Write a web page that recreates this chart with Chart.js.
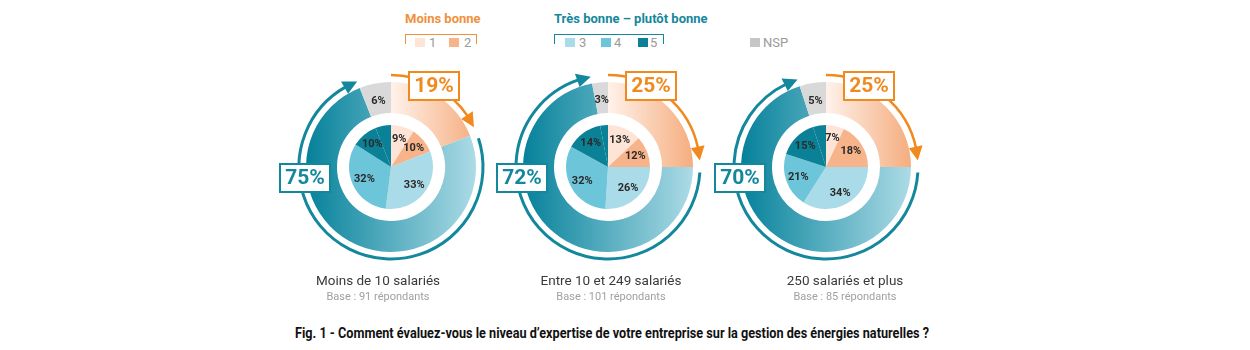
<!DOCTYPE html>
<html lang="fr">
<head>
<meta charset="utf-8">
<script src="https://cdn.jsdelivr.net/npm/chart.js"></script>
<style>
  body { margin: 0; background: #fff; font-family: Roboto, "DejaVu Sans", sans-serif; }
  #page { position: relative; width: 1250px; height: 350px; overflow: hidden; }
  .abs { position: absolute; white-space: nowrap; }
  .hdr { font-weight: bold; font-size: 13px; line-height: 16px; }
  .brk { position: absolute; height: 9px; border: 1.5px solid; border-bottom: none; }
  .sw { position: absolute; width: 10px; height: 9px; }
  .lt { position: absolute; font-size: 13px; line-height: 14px; color: #9a9a9a; }
  .cat { font-size: 13.5px; color: #3a3a3a; transform: translateX(-50%); }
  .base { font-size: 11px; color: #a0a0a0; transform: translateX(-50%); }
  canvas { position: absolute; }
</style>
</head>
<body>
<div id="page">
  <!-- legende -->
  <div class="abs hdr" style="left:405px;top:11px;color:#f0913b">Moins bonne</div>
  <div class="brk" style="left:405px;top:34px;width:70px;border-color:#f0913b"></div>
  <div class="sw" style="left:415px;top:38px;background:#fde4d6"></div>
  <div class="lt" style="left:429px;top:36px">1</div>
  <div class="sw" style="left:449px;top:38px;background:#f7b38a"></div>
  <div class="lt" style="left:464px;top:36px">2</div>

  <div class="abs hdr" style="left:554px;top:11px;color:#17879c">Très bonne – plutôt bonne</div>
  <div class="brk" style="left:554px;top:34px;width:108px;border-color:#17879c"></div>
  <div class="sw" style="left:565px;top:38px;background:#a9dbe8"></div>
  <div class="lt" style="left:579px;top:36px">3</div>
  <div class="sw" style="left:601px;top:38px;background:#6dc5da"></div>
  <div class="lt" style="left:614px;top:36px">4</div>
  <div class="sw" style="left:638px;top:38px;background:#0a8197"></div>
  <div class="lt" style="left:650px;top:36px">5</div>

  <div class="sw" style="left:750px;top:38px;background:#c6c6c6"></div>
  <div class="lt" style="left:763px;top:36px">NSP</div>

  <div class="abs" id="title" style="left:295px;top:325px;font-weight:bold;font-size:14px;color:#111;transform-origin:0 0">Fig. 1 - Comment évaluez-vous le niveau d’expertise de votre entreprise sur la gestion des énergies naturelles ?</div>
</div>
<script>
var groups = ['Moins de 10 salariés', 'Entre 10 et 249 salariés', '250 salariés et plus'];
var bases = [91, 101, 85];

// anneau exterieur
var moinsBonne = [19, 25, 25];
var tresBonne = [75, 72, 70];
var nsp = [6, 3, 5];

// camembert interieur (notes 1 a 5)
var note1 = [9, 13, 7];
var note2 = [10, 12, 18];
var note3 = [33, 26, 34];
var note4 = [32, 32, 21];
var note5 = [10, 14, 15];

var centers = [391, 608, 826];
var labelX = [378, 611, 845];
var cy = 167;
var orange = '#f08a1e';
var teal = '#13879c';
// le NSP du camembert est peint comme la note 5
var pieColors = ['#fde4d6', '#f7b38a', '#a9dbe8', '#6dc5da', '#0a8197', '#0a8197'];

// titre condense a la largeur de l'original
var title = document.getElementById('title');
title.style.transform = 'scaleX(' + (634 / title.offsetWidth) + ')';

function ringColor(c) {
    var chart = c.chart, area = chart.chartArea;
    if (!area) return '#ccc';
    var x = (area.left + area.right) / 2, R = 85, g;
    if (c.dataIndex === 0) {
        g = chart.ctx.createLinearGradient(x, 0, x + R, 0);
        g.addColorStop(0, '#fff2ea');
        g.addColorStop(1, '#f5ad7f');
        return g;
    }
    if (c.dataIndex === 1) {
        g = chart.ctx.createLinearGradient(x - R, 0, x + R, 0);
        g.addColorStop(0, '#05819a');
        g.addColorStop(1, '#acdbe6');
        return g;
    }
    return '#d9d9d9';
}

function arrowArc(ctx, x, y, r, a0, a1, color, lw) {
    var len = 14, w = 14;
    var b = a1 - len / r;
    ctx.strokeStyle = color;
    ctx.lineWidth = lw;
    ctx.beginPath();
    ctx.arc(x, y, r, a0, b + 0.02);
    ctx.stroke();
    ctx.fillStyle = color;
    ctx.beginPath();
    ctx.moveTo(x + Math.cos(a1) * r, y + Math.sin(a1) * r);
    ctx.lineTo(x + Math.cos(b) * (r + w / 2), y + Math.sin(b) * (r + w / 2));
    ctx.lineTo(x + Math.cos(b) * (r - w / 2), y + Math.sin(b) * (r - w / 2));
    ctx.closePath();
    ctx.fill();
}

function valueBox(ctx, x, y, txt, color) {
    ctx.fillStyle = '#fff';
    ctx.fillRect(x - 25, y - 14, 50, 28);
    ctx.strokeStyle = color;
    ctx.lineWidth = 2;
    ctx.strokeRect(x - 25, y - 14, 50, 28);
    ctx.fillStyle = color;
    ctx.font = 'bold 21px Roboto';
    ctx.textAlign = 'center';
    ctx.textBaseline = 'middle';
    ctx.fillText(txt, x, y + 1);
}

var decor = {
    id: 'decor',
    afterDatasetsDraw: function (chart) {
        var ctx = chart.ctx, i = chart.options.plugins.decor.index;
        var ring = chart.getDatasetMeta(0).data;
        var pie = chart.getDatasetMeta(2).data;
        var x = ring[0].x, y = ring[0].y, R = ring[0].outerRadius;
        var ra = R + 7, a, r;
        ctx.save();
        ctx.font = 'bold 11px Roboto';
        ctx.fillStyle = '#2a2a2a';
        ctx.textAlign = 'center';
        ctx.textBaseline = 'middle';
        pie.forEach(function (arc, k) {
            if (k > 4) return;
            a = (arc.startAngle + arc.endAngle) / 2;
            r = arc.outerRadius * 0.7;
            ctx.fillText(chart.data.datasets[2].data[k] + '%', x + Math.cos(a) * r, y + Math.sin(a) * r);
        });
        var g = ring[2];
        a = (g.startAngle + g.endAngle) / 2;
        r = g.innerRadius + (g.outerRadius - g.innerRadius) * 0.42;
        ctx.fillText(nsp[i] + '%', x + Math.cos(a) * r, y + Math.sin(a) * r);

        arrowArc(ctx, x, y, ra, -Math.PI / 2, ring[0].endAngle - 0.07, orange, 2.5);
        arrowArc(ctx, x, y, ra, ring[1].startAngle + 0.06, ring[1].endAngle, teal, 3);

        valueBox(ctx, x + 43, y - 81, moinsBonne[i] + '%', orange);
        valueBox(ctx, x - 86, y + 11, tresBonne[i] + '%', teal);
        ctx.restore();
    }
};

var page = document.getElementById('page');
groups.forEach(function (name, i) {
    var cv = document.createElement('canvas');
    cv.width = 250;
    cv.height = 250;
    cv.style.left = (centers[i] - 125) + 'px';
    cv.style.top = (cy - 125) + 'px';
    page.appendChild(cv);

    var lab = document.createElement('div');
    lab.className = 'abs cat';
    lab.style.left = labelX[i] + 'px';
    lab.style.top = '272px';
    lab.textContent = name;
    page.appendChild(lab);

    var b = document.createElement('div');
    b.className = 'abs base';
    b.style.left = labelX[i] + 'px';
    b.style.top = '290px';
    b.textContent = 'Base : ' + bases[i] + ' répondants';
    page.appendChild(b);

    new Chart(cv, {
        type: 'doughnut',
        data: {
            labels: ['Moins bonne', 'Très bonne – plutôt bonne', 'NSP'],
            datasets: [{
                data: [moinsBonne[i], tresBonne[i], nsp[i]],
                backgroundColor: ringColor,
                borderWidth: 0,
                weight: 31
            }, {
                data: [1],
                backgroundColor: 'rgba(0,0,0,0)',
                borderWidth: 0,
                weight: 12
            }, {
                data: [note1[i], note2[i], note3[i], note4[i], note5[i], nsp[i]],
                backgroundColor: pieColors,
                borderWidth: 0,
                weight: 42
            }]
        },
        options: {
            responsive: false,
            animation: false,
            events: [],
            radius: 85,
            cutout: 0,
            layout: { padding: 0 },
            plugins: {
                legend: { display: false },
                tooltip: { enabled: false },
                decor: { index: i }
            }
        },
        plugins: [decor]
    });
});
</script>
</body>
</html>
